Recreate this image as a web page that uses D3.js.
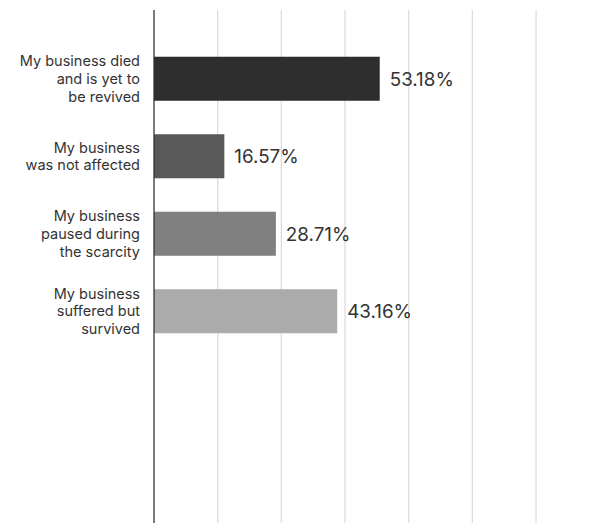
<!DOCTYPE html>
<html>
<head>
<meta charset="utf-8">
<script src="https://cdn.jsdelivr.net/npm/d3@7"></script>
<style>
  html, body { margin: 0; padding: 0; background: #fff; }
  svg { display: block; font-family: Inter, "Noto Sans", sans-serif; }
</style>
</head>
<body>
<svg id="chart" width="595" height="523"></svg>
<script>
// Survey responses: impact on businesses (line breaks mark label wrapping)
const categories = [
  "My business died\nand is yet to\nbe revived",
  "My business\nwas not affected",
  "My business\npaused during\nthe scarcity",
  "My business\nsuffered but\nsurvived"
];
const values = [53.18, 16.57, 28.71, 43.16];
const barColors = ["#2e2e2e", "#595959", "#808080", "#ababab"];
const gridTicks = [15, 30, 45, 60, 75, 90];

const width = 595, height = 523;
const svg = d3.select("#chart");

const x = d3.scaleLinear().domain([0, 105]).range([154, 599.7]);
const y = d3.scaleBand()
  .domain(categories)
  .range([40, 350])
  .paddingInner(0.432)
  .paddingOuter(0.216);

const fmt = d => d3.format(".2f")(d) + "%";

// vertical gridlines
svg.append("g")
  .selectAll("line")
  .data(gridTicks)
  .join("line")
  .attr("x1", d => x(d)).attr("x2", d => x(d))
  .attr("y1", 10).attr("y2", height)
  .attr("stroke", "#dddddd")
  .attr("stroke-width", 1.3);

// bars
svg.append("g")
  .selectAll("rect")
  .data(values)
  .join("rect")
  .attr("x", x(0))
  .attr("y", (d, i) => y(categories[i]))
  .attr("width", d => x(d) - x(0))
  .attr("height", y.bandwidth())
  .attr("fill", (d, i) => barColors[i]);

// baseline axis
svg.append("line")
  .attr("x1", x(0)).attr("x2", x(0))
  .attr("y1", 10).attr("y2", height)
  .attr("stroke", "#333333")
  .attr("stroke-width", 1.3);

// value labels
svg.append("g")
  .selectAll("text")
  .data(values)
  .join("text")
  .attr("x", d => x(d) + 10)
  .attr("y", (d, i) => y(categories[i]) + y.bandwidth() / 2)
  .attr("dy", "0.36em")
  .attr("font-size", 18.8)
  .attr("fill", "#333333")
  .text(fmt);

// category labels
const lineH = 17.6;
const catLabels = svg.append("g")
  .selectAll("text")
  .data(categories)
  .join("text")
  .attr("text-anchor", "end")
  .attr("font-size", 14.5)
  .attr("fill", "#333333")
  .attr("transform", d => `translate(140,${y(d) + y.bandwidth() / 2})`);

catLabels.each(function (d) {
  const lines = d.split("\n");
  const t = d3.select(this);
  lines.forEach((ln, j) => {
    t.append("tspan")
      .attr("x", 0)
      .attr("y", (j - (lines.length - 1) / 2) * lineH)
      .attr("dy", "0.36em")
      .text(ln);
  });
});
</script>
</body>
</html>
